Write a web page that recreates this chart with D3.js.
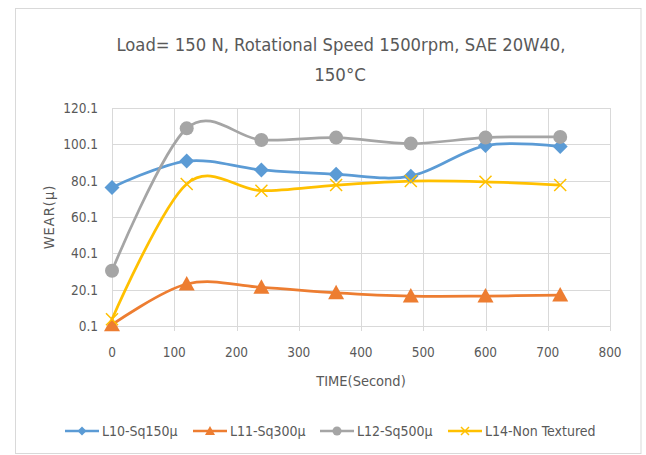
<!DOCTYPE html>
<html><head><meta charset="utf-8">
<script src="https://cdn.jsdelivr.net/npm/d3@7"></script>
<style>
body{margin:0;background:#fff;}
text{font-family:"Liberation Sans Narrow","DejaVu Sans Condensed","Open Sans",sans-serif;fill:#595959;}
</style></head>
<body><svg id="c" width="646" height="455"></svg>
<script>
const times = [0, 120, 240, 360, 480, 600, 720];
const seriesNames = ["L10-Sq150µ", "L11-Sq300µ", "L12-Sq500µ", "L14-Non Textured"];
const l10 = [76.4, 90.9, 86.0, 83.6, 82.6, 99.4, 98.9];
const l11 = [0.8, 23.2, 21.4, 18.4, 16.6, 16.6, 17.1];
const l12 = [30.5, 108.9, 102.5, 103.8, 100.5, 103.8, 104.2];
const l14 = [3.8, 78.3, 74.6, 77.7, 79.9, 79.5, 77.7];
const xTicks = [0, 100, 200, 300, 400, 500, 600, 700, 800];
const yTicks = [0.1, 20.1, 40.1, 60.1, 80.1, 100.1, 120.1];
const colors = ["#5B9BD5", "#ED7D31", "#A5A5A5", "#FFC000"];
const markers = ["diamond", "triangle", "circle", "cross"];
const values = [l10, l11, l12, l14];

const svg = d3.select("#c");
svg.append("rect").attr("x",15.5).attr("y",8.5).attr("width",625.5).attr("height",445)
  .attr("fill","#fff").attr("stroke","#d9d9d9").attr("stroke-width",1);

const x = d3.scaleLinear().domain([0,800]).range([112,610]);
const y = d3.scaleLinear().domain([0.1,120.1]).range([326,108]);

// grid
svg.append("g").selectAll("line").data(xTicks).join("line")
  .attr("x1",d=>Math.round(x(d))+0.5).attr("x2",d=>Math.round(x(d))+0.5)
  .attr("y1",y(120.1)).attr("y2",y(0.1)+5).attr("stroke","#d9d9d9");
svg.append("g").selectAll("line").data(yTicks).join("line")
  .attr("y1",d=>Math.round(y(d))+0.5).attr("y2",d=>Math.round(y(d))+0.5)
  .attr("x1",x(0)).attr("x2",x(800)).attr("stroke","#d9d9d9");

// tick labels
svg.append("g").selectAll("text").data(xTicks).join("text")
  .attr("x",d=>x(d)).attr("y",357).attr("text-anchor","middle")
  .attr("font-size",13.5).text(d=>d);
svg.append("g").selectAll("text").data(yTicks).join("text")
  .attr("x",98).attr("y",d=>y(d)+5).attr("text-anchor","end")
  .attr("font-size",13.5).text(d=>d.toFixed(1));

// titles
svg.append("text").attr("x",341).attr("y",51).attr("text-anchor","middle")
  .attr("font-size",18.5).attr("textLength",449).attr("lengthAdjust","spacingAndGlyphs")
  .text("Load= 150 N, Rotational Speed  1500rpm, SAE 20W40,");
svg.append("text").attr("x",340).attr("y",81).attr("text-anchor","middle")
  .attr("font-size",18.5).text("150°C");
svg.append("text").attr("x",361).attr("y",386).attr("text-anchor","middle")
  .attr("font-size",14.5).text("TIME(Second)");
svg.append("text").attr("transform","translate(54,217) rotate(-90)").attr("text-anchor","middle")
  .attr("font-size",14.5).attr("letter-spacing",1).text("WEAR(µ)");

const line = d3.line().x(d=>x(d[0])).y(d=>y(d[1])).curve(d3.curveCardinal.tension(0));

function marker(g, type, color, size){
  if(type==="diamond"){
    g.append("path").attr("d",`M0,${-size}L${size},0L0,${size}L${-size},0Z`).attr("fill",color);
  } else if(type==="triangle"){
    g.append("path").attr("d",`M0,${-size}L${size},${size*0.8}L${-size},${size*0.8}Z`).attr("fill",color);
  } else if(type==="circle"){
    g.append("circle").attr("r",size).attr("fill",color);
  } else {
    g.append("path").attr("d",`M${-size},${-size}L${size},${size}M${size},${-size}L${-size},${size}`)
      .attr("stroke",color).attr("stroke-width",1.5).attr("fill","none");
  }
}
const msize = [7.5, 8, 7, 6];

values.forEach((vals,i)=>{
  const pts = times.map((t,j)=>[t,vals[j]]);
  svg.append("path").attr("d",line(pts)).attr("fill","none")
    .attr("stroke",colors[i]).attr("stroke-width",2.75).attr("stroke-linejoin","round");
});
values.forEach((vals,i)=>{
  times.forEach((t,j)=>{
    const g = svg.append("g").attr("transform",`translate(${x(t)},${y(vals[j])})`);
    marker(g, markers[i], colors[i], msize[i]);
  });
});

// legend
const legX = [65, 193, 320, 448];
seriesNames.forEach((n,i)=>{
  const g = svg.append("g").attr("transform",`translate(${legX[i]},431)`);
  g.append("line").attr("x1",0).attr("x2",34).attr("stroke",colors[i]).attr("stroke-width",2.5);
  const m = g.append("g").attr("transform","translate(17,0)");
  marker(m, markers[i], colors[i], [4.5,5,4.5,4][i]);
  g.append("text").attr("x",37).attr("y",5).attr("font-size",14).text(n);
});
</script></body></html>
